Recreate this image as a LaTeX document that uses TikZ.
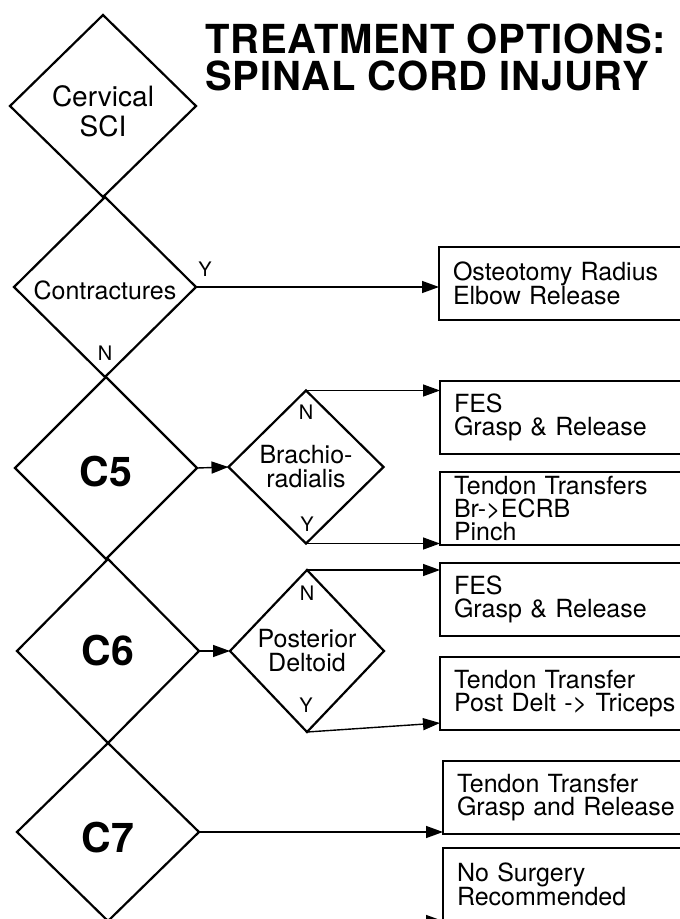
\documentclass[tikz,border=0pt]{standalone}
\usepackage{fontspec}
\setmainfont{TeX Gyre Heros}
\usetikzlibrary{shapes.geometric,arrows.meta,calc}
\newcommand{\lowr}[2]{\raisebox{-#1}[\height][\depth]{#2}}
\begin{document}
\begin{tikzpicture}[x=1pt,y=-1pt,
  dia/.style={diamond, draw, line width=2.2pt, inner sep=0pt, outer sep=0pt, align=center},
  box/.style={rectangle, draw, line width=1.4pt, anchor=west, minimum height=73pt,
    inner xsep=14pt, inner ysep=0pt, text width=240pt, align=left,
    font=\fontsize{25}{23}\selectfont, outer sep=0pt},
  arr/.style={line width=1.4pt, -{Triangle[length=17pt,width=12pt]}},
  yn/.style={font=\fontsize{20}{20}\selectfont, inner sep=0pt},
  lbl/.style={font=\fontsize{25}{24}\selectfont},
  big/.style={font=\fontsize{41}{41}\selectfont\bfseries},
  ttl/.style={font=\fontsize{40}{40}\selectfont\bfseries\addfontfeature{LetterSpace=2.0}, anchor=base west, inner sep=0pt}]
\useasboundingbox (0,0) rectangle (680,919);
\clip (0,0) rectangle (680,919);

% title
\node[ttl] (title1) at (205,53) {TREATMENT OPTIONS:};
\node[ttl] (title2) at (205,90) {SPINAL CORD INJURY};

% main column of diamonds
\node[dia, minimum width=186pt, minimum height=182pt, font=\fontsize{28}{30}\selectfont] (sci) at (103,106)
  {\lowr{9pt}{\begin{tabular}{@{}c@{}}Cervical\\SCI\end{tabular}}};
\node[dia, lbl, minimum width=182pt, minimum height=180pt] (con) at (105,287) {\lowr{3pt}{Contractures}};
\node[dia, big, minimum width=182pt, minimum height=182pt] (c5) at (106,468) {\lowr{4pt}{C5}};
\node[dia, big, minimum width=182pt, minimum height=184pt] (c6) at (108,651) {C6};
\node[dia, big, minimum width=182pt, minimum height=178pt] (c7) at (108,832) {\lowr{6pt}{C7}};

% secondary diamonds
\node[dia, lbl, minimum width=155pt, minimum height=153pt] (br) at (306,467) {Brachio-\\radialis};
\node[dia, lbl, minimum width=154pt, minimum height=162pt] (pd) at (307,651) {Posterior\\Deltoid};

% Y / N labels
\node[yn] (cony) at (205,269) {Y};
\node[yn] (conn) at (105,353) {N};
\node[yn] (brn) at (306,412) {N};
\node[yn] (bry) at (307,524) {Y};
\node[yn] (pdn) at (307,593) {N};
\node[yn] (pdy) at (306,705) {Y};

% boxes
\node[box] (ost) at (439,283.5) {Osteotomy Radius\\Elbow Release};
\node[box] (fes1) at (440,417.5) {FES\\Grasp \& Release};
\node[box] (tt1) at (440,508.5) {Tendon Transfers\\Br->ECRB\\Pinch};
\node[box] (fes2) at (440,599.5) {FES\\Grasp \& Release};
\node[box] (tt2) at (440,693.5) {Tendon Transfer\\Post Delt -> Triceps};
\node[box] (tt3) at (443,797.5) {Tendon Transfer\\Grasp and Release};
\node[box] (ns) at (443,884.5) {No Surgery\\Recommended};

% connectors
\draw[arr] (con.east) -- (con.east -| ost.west);
\draw[arr] (c5.east) -- (br.west);
\draw[arr] (br.north) -- (br.north -| fes1.west);
\draw[arr] (br.south) -- (br.south -| tt1.west);
\draw[arr] (c6.east) -- (pd.west);
\draw[arr] (pd.north) -- (pd.north -| fes2.west);
\draw[arr] (pd.south) -- ($(tt2.south west)+(0,-7)$);
\draw[arr] (c7.east) -- (c7.east -| tt3.west);
\draw[arr] (c7.south) -- (c7.south -| ns.west);
\end{tikzpicture}
\end{document}
